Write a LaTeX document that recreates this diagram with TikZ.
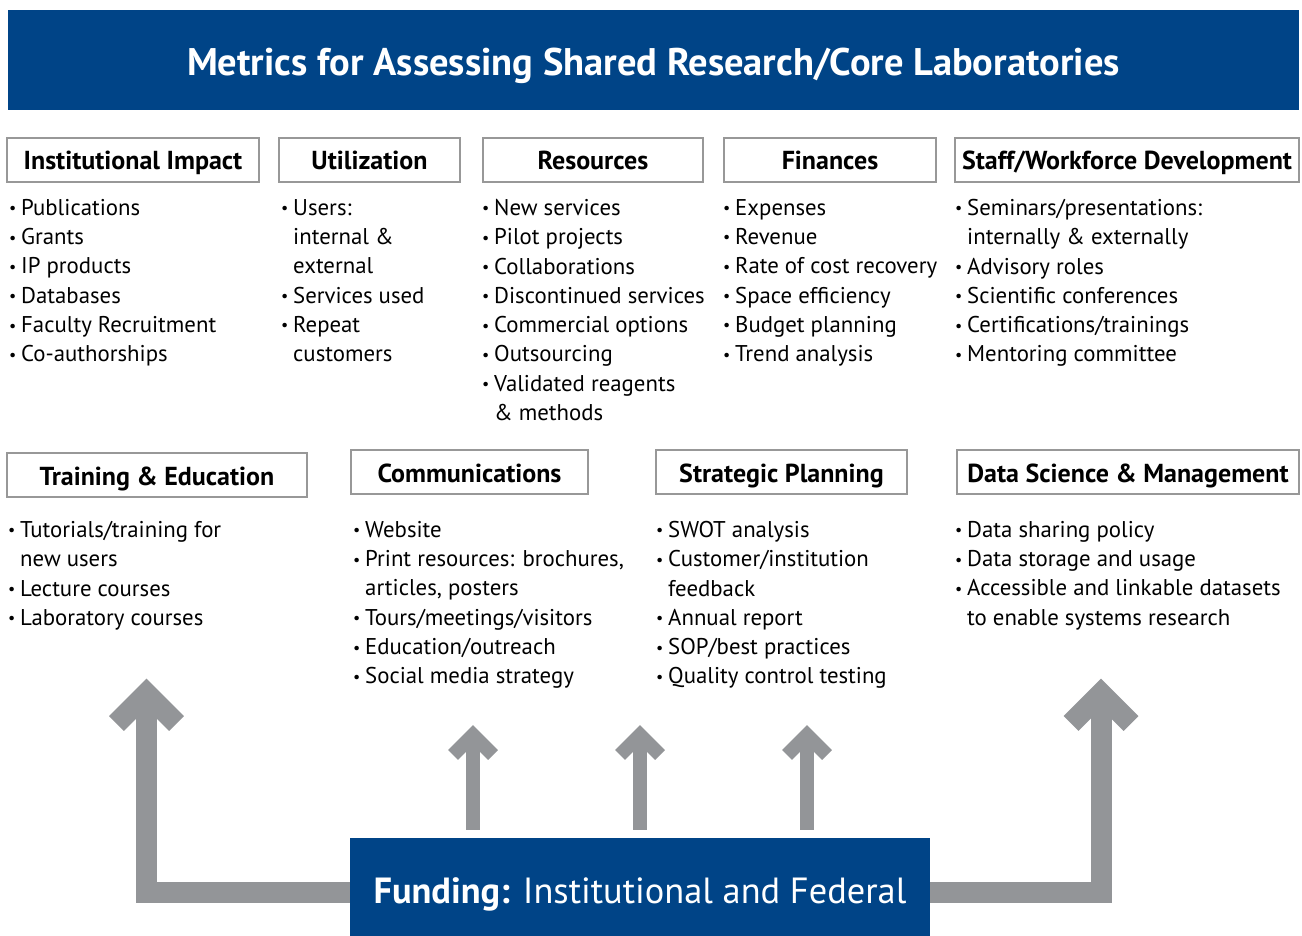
\documentclass[tikz,border=0pt]{standalone}
\usepackage{fontspec}
\setmainfont{PT Sans}
\usetikzlibrary{calc}
\definecolor{coreblue}{RGB}{0,68,135}
\definecolor{arrowgray}{RGB}{147,149,152}
\definecolor{boxgray}{RGB}{152,152,152}
\newcommand{\blt}{\makebox[11pt][l]{\hspace*{-1pt}\raisebox{1.5pt}{\fontsize{16}{16}\selectfont\textbullet}}}
\newcommand{\bltsp}{\hspace*{11pt}}

\begin{document}
\begin{tikzpicture}[x=1pt,y=-1pt,
  hdbox/.style={draw=boxgray, line width=2.5pt, fill=white, inner sep=0pt, minimum height=44pt,
    text height=20pt, text depth=0pt, font=\fontsize{26}{26}\selectfont\bfseries},
  itemlist/.style={anchor=north west, align=left, inner sep=0pt, font=\fontsize{22.8}{29.3}\selectfont},
  bigshaft/.style={draw=arrowgray, line width=21pt, miter limit=10},
  bigbarb/.style={draw=arrowgray, line width=21pt, line join=miter, miter limit=10},
  smallshaft/.style={draw=arrowgray, line width=14pt},
  smallbarb/.style={draw=arrowgray, line width=14pt, line join=miter, miter limit=10}]
\useasboundingbox (0,0) rectangle (1302,936);

% title bar
\node[fill=coreblue, text=white, minimum width=1291pt, minimum height=100pt, inner sep=0pt,
  text height=32pt, text depth=0pt, font=\fontsize{38.5}{38.5}\selectfont\bfseries] (title) at (653.5,60) {Metrics for Assessing Shared Research/Core Laboratories};

% first row of metrics
\node[hdbox, minimum width=252pt] (instimp) at (133,160) {Institutional Impact};
\node[hdbox, minimum width=181pt] (util) at (369.5,160) {Utilization};
\node[hdbox, minimum width=220pt] (res) at (593,160) {Resources};
\node[hdbox, minimum width=212pt] (fin) at (830,160) {Finances};
\node[hdbox, minimum width=344pt] (staff) at (1127,160) {Staff/Workforce Development};

\node[itemlist] (instimplist) at (10,199) {\blt Publications\\ \blt Grants\\ \blt IP products\\ \blt Databases\\ \blt Faculty Recruitment\\ \blt Co-authorships};
\node[itemlist] (utillist) at (282,199) {\blt Users:\\ \bltsp internal \&\\ \bltsp external\\ \blt Services used\\ \blt Repeat\\ \bltsp customers};
\node[itemlist] (reslist) at (483,199) {\blt New services\\ \blt Pilot projects\\ \blt Collaborations\\ \blt Discontinued services\\ \blt Commercial options\\ \blt Outsourcing\\ \blt Validated reagents\\ \bltsp \& methods};
\node[itemlist] (finlist) at (724,199) {\blt Expenses\\ \blt Revenue\\ \blt Rate of cost recovery\\ \blt Space efficiency\\ \blt Budget planning\\ \blt Trend analysis};
\node[itemlist] (stafflist) at (956,199) {\blt Seminars/presentations:\\ \bltsp internally \& externally\\ \blt Advisory roles\\ \blt Scientific conferences\\ \blt Certifications/trainings\\ \blt Mentoring committee};

% second row of metrics
\node[hdbox, minimum width=300pt] (train) at (157,475) {Training \& Education};
\node[hdbox, minimum width=237pt] (comm) at (469.5,472) {Communications};
\node[hdbox, minimum width=251pt] (strat) at (781.5,472) {Strategic Planning};
\node[hdbox, minimum width=342pt] (data) at (1128,472) {Data Science \& Management};

\node[itemlist] (trainlist) at (9,521) {\blt Tutorials/training for\\ \bltsp new users\\ \blt Lecture courses\\ \blt Laboratory courses};
\node[itemlist] (commlist) at (354,521) {\blt Website\\ \blt Print resources: brochures,\\ \bltsp articles, posters\\ \blt Tours/meetings/visitors\\ \blt Education/outreach\\ \blt Social media strategy};
\node[itemlist] (stratlist) at (657,521) {\blt SWOT analysis\\ \blt Customer/institution\\ \bltsp feedback\\ \blt Annual report\\ \blt SOP/best practices\\ \blt Quality control testing};
\node[itemlist] (datalist) at (956,521) {\blt Data sharing policy\\ \blt Data storage and usage\\ \blt Accessible and linkable datasets\\ \bltsp to enable systems research};

% funding and arrows
\node[fill=coreblue, text=white, minimum width=580pt, minimum height=98pt, inner sep=0pt,
  text height=32pt, text depth=0pt, font=\fontsize{36.4}{36.4}\selectfont] (fund) at (640,887) {\textbf{Funding:} Institutional and Federal};

\coordinate (lefttip) at (146.5,693.5);
\coordinate (righttip) at (1101,693.5);
\coordinate (midtipa) at (473,735);
\coordinate (midtipb) at (640,735);
\coordinate (midtipc) at (807,735);

\draw[bigshaft] (fund.west |- 0,892.5) -- (lefttip |- 0,892.5) -- (lefttip);
\draw[bigshaft] (fund.east |- 0,892.5) -- (righttip |- 0,892.5) -- (righttip);
\draw[bigbarb] ([shift={(-30,30)}]lefttip) -- (lefttip) -- ([shift={(30,30)}]lefttip);
\draw[bigbarb] ([shift={(-30,30)}]righttip) -- (righttip) -- ([shift={(30,30)}]righttip);

\draw[smallshaft] ([yshift=8pt]fund.north -| midtipa) -- (midtipa);
\draw[smallshaft] ([yshift=8pt]fund.north -| midtipb) -- (midtipb);
\draw[smallshaft] ([yshift=8pt]fund.north -| midtipc) -- (midtipc);
\draw[smallbarb] ([shift={(-20,20)}]midtipa) -- (midtipa) -- ([shift={(20,20)}]midtipa);
\draw[smallbarb] ([shift={(-20,20)}]midtipb) -- (midtipb) -- ([shift={(20,20)}]midtipb);
\draw[smallbarb] ([shift={(-20,20)}]midtipc) -- (midtipc) -- ([shift={(20,20)}]midtipc);
\end{tikzpicture}
\end{document}
